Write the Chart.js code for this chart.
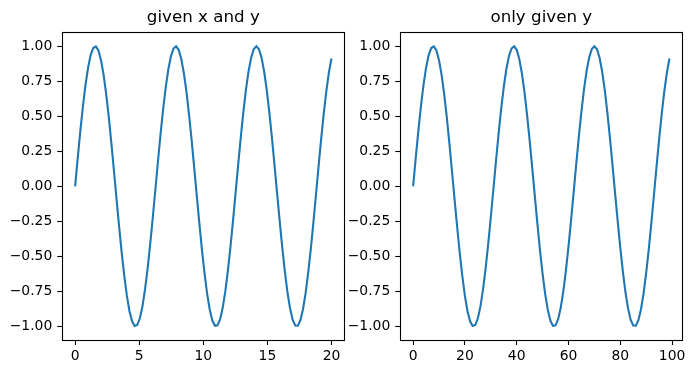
<!DOCTYPE html>
<html>
<head>
<meta charset="utf-8">
<script src="https://cdn.jsdelivr.net/npm/chart.js@4"></script>
<style>
  html, body { margin: 0; padding: 0; background: #fff; }
  body { width: 695px; height: 374px; position: relative; overflow: hidden; }
  canvas { position: absolute; top: 0; }
  #c1 { left: 0; }
  #c2 { left: 347px; }
</style>
</head>
<body>
<canvas id="c1" width="347" height="374"></canvas>
<canvas id="c2" width="348" height="374"></canvas>
<script>
// ---- data ----
const titles = ['given x and y', 'only given y'];

const xGiven = [0, 0.202, 0.404, 0.606, 0.808, 1.010, 1.212, 1.414, 1.616, 1.818,
  2.020, 2.222, 2.424, 2.626, 2.828, 3.030, 3.232, 3.434, 3.636, 3.838,
  4.040, 4.242, 4.444, 4.646, 4.848, 5.051, 5.253, 5.455, 5.657, 5.859,
  6.061, 6.263, 6.465, 6.667, 6.869, 7.071, 7.273, 7.475, 7.677, 7.879,
  8.081, 8.283, 8.485, 8.687, 8.889, 9.091, 9.293, 9.495, 9.697, 9.899,
  10.101, 10.303, 10.505, 10.707, 10.909, 11.111, 11.313, 11.515, 11.717, 11.919,
  12.121, 12.323, 12.525, 12.727, 12.929, 13.131, 13.333, 13.535, 13.737, 13.939,
  14.141, 14.343, 14.545, 14.747, 14.949, 15.152, 15.354, 15.556, 15.758, 15.960,
  16.162, 16.364, 16.566, 16.768, 16.970, 17.172, 17.374, 17.576, 17.778, 17.980,
  18.182, 18.384, 18.586, 18.788, 18.990, 19.192, 19.394, 19.596, 19.798, 20.000];

const yValues = [0.000, 0.201, 0.393, 0.570, 0.723, 0.847, 0.937, 0.988, 0.999, 0.970,
  0.901, 0.796, 0.658, 0.494, 0.308, 0.111, -0.091, -0.289, -0.475, -0.642,
  -0.783, -0.892, -0.964, -0.998, -0.991, -0.943, -0.858, -0.737, -0.586, -0.412,
  -0.221, -0.021, 0.181, 0.374, 0.553, 0.709, 0.836, 0.929, 0.984, 1.000,
  0.975, 0.909, 0.808, 0.674, 0.511, 0.328, 0.132, -0.070, -0.269, -0.457,
  -0.626, -0.770, -0.882, -0.959, -0.996, -0.993, -0.950, -0.868, -0.751, -0.603,
  -0.431, -0.241, -0.041, 0.160, 0.355, 0.535, 0.694, 0.824, 0.921, 0.981,
  1.000, 0.979, 0.918, 0.820, 0.689, 0.529, 0.347, 0.152, -0.050, -0.249,
  -0.438, -0.610, -0.757, -0.872, -0.953, -0.994, -0.996, -0.956, -0.878, -0.764,
  -0.619, -0.450, -0.261, -0.062, 0.140, 0.336, 0.518, 0.679, 0.813, 0.913];

const xTicksLeft = [0, 5, 10, 15, 20];
const xTicksRight = [0, 20, 40, 60, 80, 100];
const yTicks = [-1.00, -0.75, -0.50, -0.25, 0.00, 0.25, 0.50, 0.75, 1.00];

const xRangeLeft = [-1, 21];
const xRangeRight = [-4.95, 103.95];
const yRange = [-1.098, 1.1];

// ---- drawing ----
const FONT = 'DejaVu Sans';
const TICK_SIZE = 13.9;

const frame = {
  id: 'frame',
  afterDatasetsDraw(chart) {
    const a = chart.chartArea;
    const ctx = chart.ctx;
    ctx.save();
    ctx.strokeStyle = '#000';
    ctx.lineWidth = 1.1;
    ctx.strokeRect(Math.round(a.left) + 0.5, Math.round(a.top) + 0.5,
      Math.round(a.right) - Math.round(a.left), Math.round(a.bottom) - Math.round(a.top));
    ctx.restore();
  }
};

function fmtY(v) {
  return Number(v).toFixed(2).replace('-', '\u2212');
}

function makeChart(id, title, points, xTicks, xRange, yAxisWidth, rightPad) {
  return new Chart(document.getElementById(id), {
    type: 'line',
    data: {
      datasets: [{
        data: points,
        borderColor: '#1f77b4',
        borderWidth: 2.1,
        pointRadius: 0,
        tension: 0,
        fill: false
      }]
    },
    options: {
      responsive: false,
      animation: false,
      devicePixelRatio: 1,
      layout: { padding: { left: 0, right: rightPad, top: 0, bottom: 0 } },
      plugins: {
        legend: { display: false },
        tooltip: { enabled: false },
        title: {
          display: true,
          fullSize: false,
          text: title,
          color: '#000',
          font: { family: FONT, size: 16.7, weight: 'normal', lineHeight: 1.2 },
          padding: { top: 8, bottom: 4.3 }
        }
      },
      scales: {
        x: {
          type: 'linear',
          min: xRange[0],
          max: xRange[1],
          afterBuildTicks: s => { s.ticks = xTicks.map(v => ({ value: v })); },
          afterFit: s => { s.height = 34; },
          grid: { drawOnChartArea: false, drawTicks: true, tickLength: 5, tickColor: '#000', tickWidth: 1.1 },
          border: { display: false },
          ticks: {
            color: '#000',
            padding: 3,
            maxRotation: 0,
            autoSkip: false,
            font: { family: FONT, size: TICK_SIZE },
            callback: v => String(v)
          }
        },
        y: {
          type: 'linear',
          min: yRange[0],
          max: yRange[1],
          afterBuildTicks: s => { s.ticks = yTicks.map(v => ({ value: v })); },
          afterFit: s => { s.width = yAxisWidth; },
          grid: { drawOnChartArea: false, drawTicks: true, tickLength: 5, tickColor: '#000', tickWidth: 1.1 },
          border: { display: false },
          ticks: {
            color: '#000',
            padding: 5,
            autoSkip: false,
            font: { family: FONT, size: TICK_SIZE },
            callback: v => fmtY(v)
          }
        }
      }
    },
    plugins: [frame]
  });
}

const leftPoints = xGiven.map((x, i) => ({ x: x, y: yValues[i] }));
const rightPoints = yValues.map((y, i) => ({ x: i, y: y }));

makeChart('c1', titles[0], leftPoints, xTicksLeft, xRangeLeft, 62.3, 2.7);
makeChart('c2', titles[1], rightPoints, xTicksRight, xRangeRight, 53.3, 12.7);
</script>
</body>
</html>
